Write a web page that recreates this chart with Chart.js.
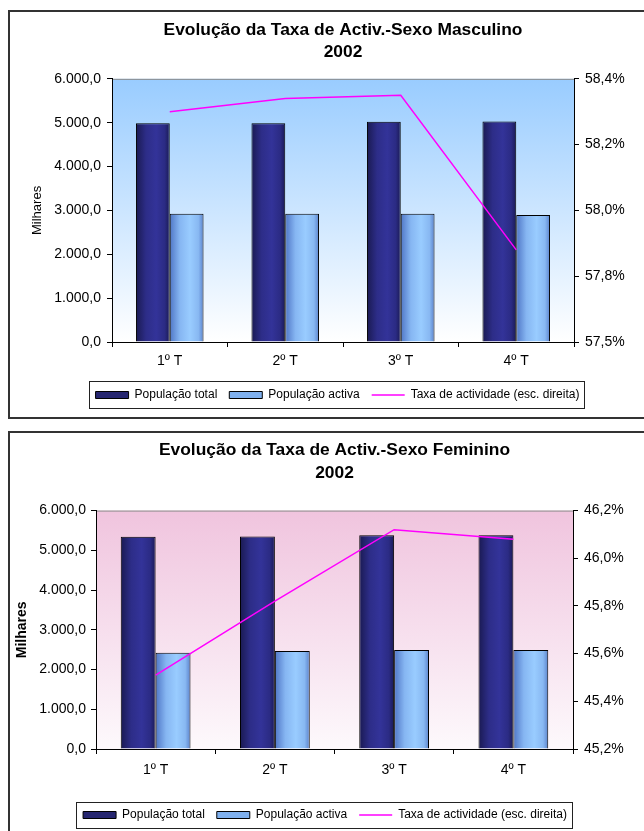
<!DOCTYPE html>
<html>
<head>
<meta charset="utf-8">
<script src="https://cdn.jsdelivr.net/npm/chart.js@4.4.1/dist/chart.umd.min.js"></script>
<style>
  html, body { margin: 0; padding: 0; background: #fff; overflow: hidden; }
  body { width: 644px; height: 831px; position: relative; }
  .caixa { position: absolute; left: 8px; border: 2px solid #333; width: 700px; }
  #caixaM { top: 10px; height: 405px; }
  #caixaF { top: 431px; height: 420px; }
  canvas { display: block; }
</style>
</head>
<body>
<div class="caixa" id="caixaM"><canvas id="taxaMasculino" width="665" height="405"></canvas></div>
<div class="caixa" id="caixaF"><canvas id="taxaFeminino" width="641" height="398"></canvas></div>
<script>
const trimestres = ["1º T", "2º T", "3º T", "4º T"];

// Sexo masculino (milhares / %)
const popTotalM = [4985, 4990, 5020, 5025];
const popActivaM = [2925, 2925, 2925, 2895];
const taxaM = [58.25, 58.29, 58.30, 57.83];

// Sexo feminino (milhares / %)
const popTotalF = [5342, 5345, 5377, 5380];
const popActivaF = [2423, 2466, 2491, 2491];
const taxaF = [45.51, 45.82, 46.12, 46.08];

// eixo esquerdo (milhares)
const ticksMilhares = [0, 1000, 2000, 3000, 4000, 5000, 6000];
const labelsMilhares = ["0,0", "1.000,0", "2.000,0", "3.000,0", "4.000,0", "5.000,0", "6.000,0"];

// eixo direito (taxa de actividade)
const ticksTaxaM = [57.55, 57.75, 57.95, 58.15, 58.35];
const labelsTaxaM = ["57,5%", "57,8%", "58,0%", "58,2%", "58,4%"];
const ticksTaxaF = [45.2, 45.4, 45.6, 45.8, 46.0, 46.2];
const labelsTaxaF = ["45,2%", "45,4%", "45,6%", "45,8%", "46,0%", "46,2%"];

const FONTE = "'Liberation Sans', Arial, sans-serif";
const CAT_PCT = 0.585;

const corEscura = "#333399";
const corClara = "#99ccff";
const paragemEscura = [[0, "#1a1a52"], [0.3, "#2d2d88"], [0.6, "#333399"], [0.85, "#2b2b84"], [1, "#1a1a55"]];
const paragemClara = [[0, "#4f76c6"], [0.3, "#86b6f2"], [0.6, "#99ccff"], [0.85, "#88b8f2"], [1, "#5a82cc"]];

// gradiente horizontal de cada barra, calculado a partir da escala x
const barFill = (lado, paragens, solida) => (ctx) => {
  const chart = ctx.chart;
  if (ctx.type !== "data" || !chart.chartArea || !chart.scales.x) return solida;
  const xs = chart.scales.x;
  const larg = (xs.width / trimestres.length) * CAT_PCT / 2;
  const c = xs.getPixelForValue(ctx.dataIndex);
  const x0 = lado === 0 ? c - larg : c;
  const g = chart.ctx.createLinearGradient(x0, 0, x0 + larg, 0);
  paragens.forEach(([p, cor]) => g.addColorStop(p, cor));
  return g;
};

const fundoPlugin = {
  id: "fundo",
  beforeDraw(chart, args, opts) {
    const { ctx, chartArea: a } = chart;
    const g = ctx.createLinearGradient(0, a.top, 0, a.bottom);
    g.addColorStop(0, opts.topo);
    g.addColorStop(1, opts.base);
    ctx.save();
    ctx.fillStyle = g;
    ctx.fillRect(a.left, a.top, a.right - a.left, a.bottom - a.top);
    ctx.strokeStyle = "#8c8c8c";
    ctx.lineWidth = 1;
    ctx.beginPath();
    ctx.moveTo(a.left, a.top + 0.5);
    ctx.lineTo(a.right, a.top + 0.5);
    ctx.stroke();
    ctx.restore();
  },
};

// moldura à volta da legenda
const molduraLegenda = {
  id: "molduraLegenda",
  afterDraw(chart, args, opts) {
    const hb = chart.legend && chart.legend.legendHitBoxes;
    if (!hb || !hb.length) return;
    const ult = hb[hb.length - 1];
    const esq = Math.round(hb[0].left - 7) + 0.5;
    const dir = Math.round(ult.left + ult.width + 5) + 0.5;
    const cy = hb[0].top + hb[0].height / 2;
    const ctx = chart.ctx;
    ctx.save();
    ctx.strokeStyle = "#222";
    ctx.lineWidth = 1;
    ctx.strokeRect(esq, Math.round(cy - opts.meia) + 0.5, dir - esq, Math.round(opts.meia * 2));
    ctx.restore();
  },
};

const criarGrafico = (canvas, p) => {
  return new Chart(canvas.getContext("2d"), {
    type: "bar",
    data: {
      labels: trimestres,
      datasets: [
        {
          label: "População total",
          data: p.total,
          backgroundColor: barFill(0, paragemEscura, corEscura),
          borderColor: "#000",
          borderWidth: 1,
          categoryPercentage: CAT_PCT,
          barPercentage: 1,
          yAxisID: "y",
          order: 1,
        },
        {
          label: "População activa",
          data: p.activa,
          backgroundColor: barFill(1, paragemClara, corClara),
          borderColor: "#000",
          borderWidth: 1,
          categoryPercentage: CAT_PCT,
          barPercentage: 1,
          yAxisID: "y",
          order: 1,
        },
        {
          type: "line",
          label: "Taxa de actividade (esc. direita)",
          data: p.taxa,
          borderColor: "#ff00ff",
          backgroundColor: "#ff00ff",
          borderWidth: 1.5,
          pointRadius: 0,
          tension: 0,
          fill: false,
          yAxisID: "y1",
          order: 0,
        },
      ],
    },
    options: {
      responsive: false,
      animation: false,
      devicePixelRatio: 1,
      layout: { padding: { top: p.topo, right: p.direita, left: 0, bottom: p.fundo } },
      scales: {
        x: {
          afterFit: (s) => { s.height = p.alturaX; },
          grid: { drawOnChartArea: false, drawTicks: true, tickLength: 5, color: "#000", offset: true },
          border: { color: "#000", width: 1 },
          ticks: { color: "#000", font: { family: FONTE, size: 14 }, padding: p.padX },
        },
        y: {
          position: "left",
          min: 0,
          max: 6000,
          afterFit: (s) => { s.width = p.largEsq; },
          afterBuildTicks: (s) => { s.ticks = ticksMilhares.map((v) => ({ value: v })); },
          grid: { drawOnChartArea: false, drawTicks: true, tickLength: 5, color: "#000" },
          border: { color: "#000", width: 1 },
          ticks: {
            color: "#000",
            font: { family: FONTE, size: 14 },
            padding: p.padEsq,
            callback: (v, i) => labelsMilhares[i],
          },
          title: {
            display: true,
            text: "Milhares",
            color: "#000",
            font: { family: FONTE, size: p.tituloY.size, weight: p.tituloY.weight },
            padding: { top: p.tituloY.pad, bottom: 0 },
          },
        },
        y1: {
          position: "right",
          min: p.taxaMin,
          max: p.taxaMax,
          afterFit: (s) => { s.width = p.largDir; },
          afterBuildTicks: (s) => { s.ticks = p.ticksTaxa.map((v) => ({ value: v })); },
          grid: { drawOnChartArea: false, drawTicks: true, tickLength: 5, color: "#000" },
          border: { color: "#000", width: 1 },
          ticks: {
            color: "#000",
            font: { family: FONTE, size: 14 },
            padding: 6,
            callback: (v, i) => p.labelsTaxa[i],
          },
        },
      },
      plugins: {
        title: {
          display: true,
          text: p.titulo,
          fullSize: false,
          color: "#000",
          font: { family: FONTE, size: 17.4, weight: "bold", lineHeight: p.entrelinha },
          padding: { top: 0, bottom: p.padTitulo },
        },
        legend: {
          position: "bottom",
          labels: {
            color: "#000",
            font: { family: FONTE, size: 12 },
            usePointStyle: true,
            pointStyleWidth: 33,
            boxHeight: 7,
            padding: 12,
            sort: (a, b) => a.datasetIndex - b.datasetIndex,
            generateLabels: (chart) => {
              const itens = Chart.defaults.plugins.legend.labels.generateLabels(chart);
              itens.forEach((it) => {
                if (it.datasetIndex === 2) {
                  it.pointStyle = "line";
                  it.strokeStyle = "#ff00ff";
                  it.lineWidth = 1.5;
                } else {
                  it.pointStyle = "rect";
                  it.fillStyle = it.datasetIndex === 0 ? "#262670" : "#7fb0ee";
                  it.strokeStyle = "#000";
                  it.lineWidth = 1;
                }
              });
              return itens;
            },
          },
        },
        tooltip: { enabled: false },
        fundo: { topo: p.corTopo, base: p.corBase },
        molduraLegenda: { meia: p.meiaLegenda },
      },
    },
    plugins: [fundoPlugin, molduraLegenda],
  });
};

criarGrafico(document.getElementById("taxaMasculino"), {
  titulo: ["Evolução da Taxa de Activ.-Sexo Masculino", "2002"],
  total: popTotalM,
  activa: popActivaM,
  taxa: taxaM,
  taxaMin: 57.55,
  taxaMax: 58.35,
  ticksTaxa: ticksTaxaM,
  labelsTaxa: labelsTaxaM,
  corTopo: "#99ccff",
  corBase: "#ffffff",
  tituloY: { size: 13, weight: "normal", pad: 20 },
  topo: 7,
  entrelinha: 1.26,
  padTitulo: 16,
  direita: 10,
  largEsq: 102,
  largDir: 91,
  padEsq: 6,
  padX: 6,
  alturaX: 35,
  fundo: 6,
  meiaLegenda: 13.6,
});

criarGrafico(document.getElementById("taxaFeminino"), {
  titulo: ["Evolução da Taxa de Activ.-Sexo Feminino", "2002"],
  total: popTotalF,
  activa: popActivaF,
  taxa: taxaF,
  taxaMin: 45.2,
  taxaMax: 46.2,
  ticksTaxa: ticksTaxaF,
  labelsTaxa: labelsTaxaF,
  corTopo: "#f0c4de",
  corBase: "#fdf9fc",
  tituloY: { size: 14, weight: "bold", pad: 4 },
  topo: 6,
  entrelinha: 1.31,
  padTitulo: 26,
  direita: 11,
  largEsq: 86,
  largDir: 67,
  padEsq: 5,
  padX: 8,
  alturaX: 48,
  fundo: 0,
  meiaLegenda: 12.8,
});
</script>
</body>
</html>
